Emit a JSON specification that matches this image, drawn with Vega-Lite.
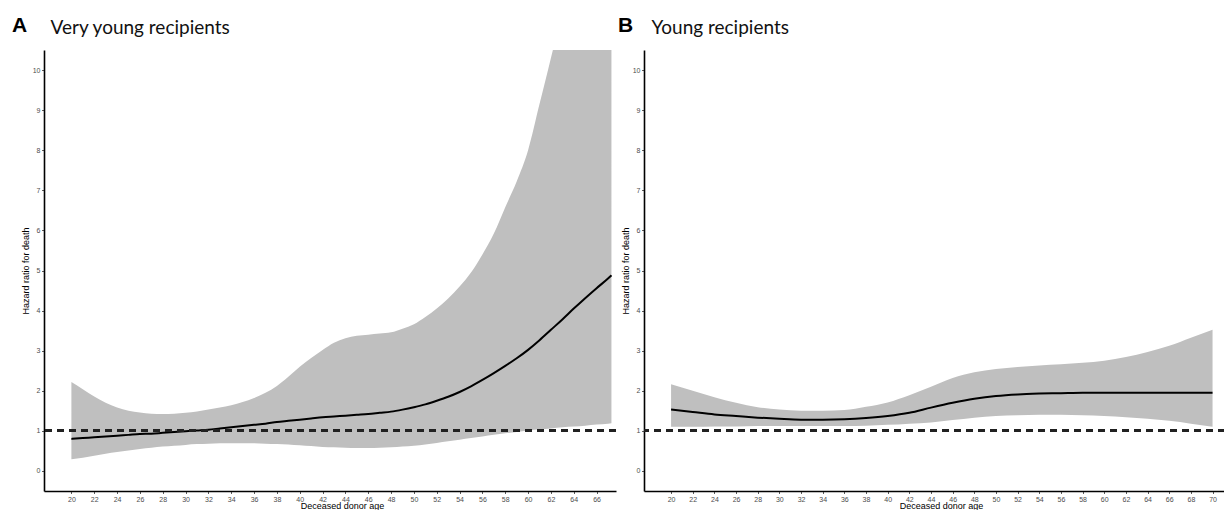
{
  "$schema": "https://vega.github.io/schema/vega-lite/v6.json",
  "padding": {"left": 12, "top": 15, "right": 0, "bottom": 0},
  "background": "white",
  "spacing": 1,
  "config": {
    "view": {"stroke": null},
    "axis": {
      "grid": false,
      "domainColor": "#000000",
      "domainWidth": 1.6,
      "tickColor": "#333333",
      "tickSize": 2.5,
      "tickWidth": 0.8,
      "labelFont": "Liberation Sans",
      "labelFontSize": 7,
      "labelColor": "#4d4d4d",
      "labelPadding": 1.5,
      "titleFont": "Liberation Sans",
      "titleFontSize": 9,
      "titleFontWeight": "normal",
      "titleColor": "#000000"
    },
    "title": {
      "font": "Liberation Sans",
      "fontSize": 21,
      "fontWeight": "bold",
      "color": "#000000",
      "anchor": "start",
      "frame": "group"
    }
  },
  "datasets": {
    "A": [
      {"age": 20, "hr": 0.80, "lo": 0.29, "hi": 2.22},
      {"age": 21, "hr": 0.82, "lo": 0.33, "hi": 2.04},
      {"age": 22, "hr": 0.84, "lo": 0.38, "hi": 1.86},
      {"age": 23, "hr": 0.86, "lo": 0.43, "hi": 1.70},
      {"age": 24, "hr": 0.88, "lo": 0.47, "hi": 1.58},
      {"age": 25, "hr": 0.90, "lo": 0.51, "hi": 1.50},
      {"age": 26, "hr": 0.92, "lo": 0.55, "hi": 1.46},
      {"age": 27, "hr": 0.93, "lo": 0.58, "hi": 1.43},
      {"age": 28, "hr": 0.95, "lo": 0.61, "hi": 1.42},
      {"age": 29, "hr": 0.97, "lo": 0.63, "hi": 1.43},
      {"age": 30, "hr": 0.99, "lo": 0.65, "hi": 1.45},
      {"age": 31, "hr": 1.01, "lo": 0.67, "hi": 1.48},
      {"age": 32, "hr": 1.03, "lo": 0.68, "hi": 1.53},
      {"age": 33, "hr": 1.06, "lo": 0.69, "hi": 1.58},
      {"age": 34, "hr": 1.09, "lo": 0.69, "hi": 1.64},
      {"age": 35, "hr": 1.12, "lo": 0.69, "hi": 1.72},
      {"age": 36, "hr": 1.15, "lo": 0.69, "hi": 1.82},
      {"age": 37, "hr": 1.18, "lo": 0.68, "hi": 1.95},
      {"age": 38, "hr": 1.22, "lo": 0.67, "hi": 2.12},
      {"age": 39, "hr": 1.25, "lo": 0.66, "hi": 2.35},
      {"age": 40, "hr": 1.28, "lo": 0.64, "hi": 2.60},
      {"age": 41, "hr": 1.31, "lo": 0.62, "hi": 2.82},
      {"age": 42, "hr": 1.34, "lo": 0.60, "hi": 3.02},
      {"age": 43, "hr": 1.36, "lo": 0.59, "hi": 3.20},
      {"age": 44, "hr": 1.38, "lo": 0.58, "hi": 3.31},
      {"age": 45, "hr": 1.40, "lo": 0.57, "hi": 3.37},
      {"age": 46, "hr": 1.42, "lo": 0.57, "hi": 3.40},
      {"age": 47, "hr": 1.45, "lo": 0.58, "hi": 3.43},
      {"age": 48, "hr": 1.48, "lo": 0.59, "hi": 3.46},
      {"age": 49, "hr": 1.53, "lo": 0.61, "hi": 3.55},
      {"age": 50, "hr": 1.59, "lo": 0.63, "hi": 3.66},
      {"age": 51, "hr": 1.66, "lo": 0.66, "hi": 3.84},
      {"age": 52, "hr": 1.75, "lo": 0.70, "hi": 4.05},
      {"age": 53, "hr": 1.85, "lo": 0.74, "hi": 4.30},
      {"age": 54, "hr": 1.97, "lo": 0.78, "hi": 4.60},
      {"age": 55, "hr": 2.11, "lo": 0.82, "hi": 4.95},
      {"age": 56, "hr": 2.27, "lo": 0.86, "hi": 5.40},
      {"age": 57, "hr": 2.44, "lo": 0.90, "hi": 5.92},
      {"age": 58, "hr": 2.62, "lo": 0.94, "hi": 6.58},
      {"age": 59, "hr": 2.81, "lo": 0.97, "hi": 7.22},
      {"age": 60, "hr": 3.02, "lo": 1.01, "hi": 8.00},
      {"age": 61, "hr": 3.26, "lo": 1.04, "hi": 9.15},
      {"age": 62, "hr": 3.52, "lo": 1.06, "hi": 10.30},
      {"age": 63, "hr": 3.78, "lo": 1.09, "hi": 11.50},
      {"age": 64, "hr": 4.05, "lo": 1.11, "hi": 13.00},
      {"age": 65, "hr": 4.31, "lo": 1.13, "hi": 14.80},
      {"age": 66, "hr": 4.56, "lo": 1.16, "hi": 16.80},
      {"age": 67, "hr": 4.80, "lo": 1.18, "hi": 19.00},
      {"age": 67.3, "hr": 4.88, "lo": 1.19, "hi": 19.70}
    ],
    "B": [
      {"age": 20, "hr": 1.53, "lo": 1.10, "hi": 2.16},
      {"age": 22, "hr": 1.47, "lo": 1.10, "hi": 2.00},
      {"age": 24, "hr": 1.41, "lo": 1.11, "hi": 1.84},
      {"age": 26, "hr": 1.37, "lo": 1.11, "hi": 1.70},
      {"age": 28, "hr": 1.33, "lo": 1.12, "hi": 1.59},
      {"age": 30, "hr": 1.30, "lo": 1.12, "hi": 1.53},
      {"age": 32, "hr": 1.28, "lo": 1.12, "hi": 1.50},
      {"age": 34, "hr": 1.28, "lo": 1.12, "hi": 1.50},
      {"age": 36, "hr": 1.29, "lo": 1.12, "hi": 1.52},
      {"age": 38, "hr": 1.32, "lo": 1.13, "hi": 1.60},
      {"age": 40, "hr": 1.37, "lo": 1.15, "hi": 1.71},
      {"age": 42, "hr": 1.45, "lo": 1.18, "hi": 1.89},
      {"age": 44, "hr": 1.58, "lo": 1.21, "hi": 2.10},
      {"age": 46, "hr": 1.70, "lo": 1.27, "hi": 2.32},
      {"age": 48, "hr": 1.80, "lo": 1.33, "hi": 2.46},
      {"age": 50, "hr": 1.87, "lo": 1.37, "hi": 2.54},
      {"age": 52, "hr": 1.91, "lo": 1.39, "hi": 2.59},
      {"age": 54, "hr": 1.93, "lo": 1.40, "hi": 2.63},
      {"age": 56, "hr": 1.94, "lo": 1.40, "hi": 2.66},
      {"age": 58, "hr": 1.95, "lo": 1.39, "hi": 2.70},
      {"age": 60, "hr": 1.95, "lo": 1.37, "hi": 2.75},
      {"age": 62, "hr": 1.95, "lo": 1.34, "hi": 2.84},
      {"age": 64, "hr": 1.95, "lo": 1.30, "hi": 2.97},
      {"age": 66, "hr": 1.95, "lo": 1.25, "hi": 3.12},
      {"age": 68, "hr": 1.95, "lo": 1.18, "hi": 3.32},
      {"age": 70, "hr": 1.95, "lo": 1.10, "hi": 3.52}
    ]
  },
  "hconcat": [
    {
      "width": 572,
      "height": 441,
      "title": {"text": "A", "dx": -32, "dy": 22},
      "data": {"name": "A"},
      "resolve": {"axis": {"x": "independent"}},
      "layer": [
        {
          "mark": {"type": "area", "color": "#bfbfbf", "clip": true, "interpolate": "monotone", "opacity": 1},
          "encoding": {
            "x": {"field": "age", "type": "quantitative", "scale": {"domain": [17.6, 67.7], "nice": false, "zero": false},
              "axis": {"title": "Deceased donor age", "values": [20,22,24,26,28,30,32,34,36,38,40,42,44,46,48,50,52,54,56,58,60,62,64,66],
                "titleX": 298, "titleY": 17, "titleAlign": "center", "titleBaseline": "alphabetic"}},
            "y": {"field": "lo", "type": "quantitative", "title": "Hazard ratio for death", "scale": {"domain": [-0.5, 10.5], "nice": false, "zero": false},
              "axis": {"values": [0,1,2,3,4,5,6,7,8,9,10],
                "titleX": -19, "titleY": 220.5, "titleAngle": 270, "titleAlign": "center", "titleBaseline": "middle"}},
            "y2": {"field": "hi"}
          }
        },
        {
          "mark": {"type": "line", "color": "#000000", "strokeWidth": 2, "clip": true, "interpolate": "monotone"},
          "encoding": {
            "x": {"field": "age", "type": "quantitative", "scale": {"domain": [17.6, 67.7], "nice": false, "zero": false},
              "axis": {"orient": "top", "title": "Very young recipients", "labels": false, "ticks": false, "domain": false,
                "titleFont": "Lato", "titleFontSize": 19, "titleFontWeight": "normal", "titleColor": "#111111",
                "titleX": 6, "titleY": -17, "titleAlign": "left", "titleBaseline": "alphabetic"}},
            "y": {"field": "hr", "type": "quantitative", "title": "Hazard ratio for death", "scale": {"domain": [-0.5, 10.5], "nice": false, "zero": false},
              "axis": {"values": [0,1,2,3,4,5,6,7,8,9,10],
                "titleX": -19, "titleY": 220.5, "titleAngle": 270, "titleAlign": "center", "titleBaseline": "middle"}}
          }
        },
        {
          "mark": {"type": "rule", "color": "#222222", "strokeWidth": 2, "strokeDash": [7, 5]},
          "encoding": {
            "y": {"datum": 1, "type": "quantitative", "title": "Hazard ratio for death", "scale": {"domain": [-0.5, 10.5], "nice": false, "zero": false},
              "axis": {"values": [0,1,2,3,4,5,6,7,8,9,10],
                "titleX": -19, "titleY": 220.5, "titleAngle": 270, "titleAlign": "center", "titleBaseline": "middle"}}
          }
        }
      ]
    },
    {
      "width": 581,
      "height": 441,
      "title": {"text": "B", "dx": -26, "dy": 22},
      "data": {"name": "B"},
      "resolve": {"axis": {"x": "independent"}},
      "layer": [
        {
          "mark": {"type": "area", "color": "#bfbfbf", "clip": true, "interpolate": "monotone", "opacity": 1},
          "encoding": {
            "x": {"field": "age", "type": "quantitative", "scale": {"domain": [17.5, 71.15], "nice": false, "zero": false},
              "axis": {"title": "Deceased donor age", "values": [20,22,24,26,28,30,32,34,36,38,40,42,44,46,48,50,52,54,56,58,60,62,64,66,68,70],
                "titleX": 297, "titleY": 17, "titleAlign": "center", "titleBaseline": "alphabetic"}},
            "y": {"field": "lo", "type": "quantitative", "title": "Hazard ratio for death", "scale": {"domain": [-0.5, 10.5], "nice": false, "zero": false},
              "axis": {"values": [0,1,2,3,4,5,6,7,8,9,10],
                "titleX": -19, "titleY": 220.5, "titleAngle": 270, "titleAlign": "center", "titleBaseline": "middle"}},
            "y2": {"field": "hi"}
          }
        },
        {
          "mark": {"type": "line", "color": "#000000", "strokeWidth": 2, "clip": true, "interpolate": "monotone"},
          "encoding": {
            "x": {"field": "age", "type": "quantitative", "scale": {"domain": [17.5, 71.15], "nice": false, "zero": false},
              "axis": {"orient": "top", "title": "Young recipients", "labels": false, "ticks": false, "domain": false,
                "titleFont": "Lato", "titleFontSize": 19, "titleFontWeight": "normal", "titleColor": "#111111",
                "titleX": 7, "titleY": -17, "titleAlign": "left", "titleBaseline": "alphabetic"}},
            "y": {"field": "hr", "type": "quantitative", "title": "Hazard ratio for death", "scale": {"domain": [-0.5, 10.5], "nice": false, "zero": false},
              "axis": {"values": [0,1,2,3,4,5,6,7,8,9,10],
                "titleX": -19, "titleY": 220.5, "titleAngle": 270, "titleAlign": "center", "titleBaseline": "middle"}}
          }
        },
        {
          "mark": {"type": "rule", "color": "#222222", "strokeWidth": 2, "strokeDash": [7, 5]},
          "encoding": {
            "y": {"datum": 1, "type": "quantitative", "title": "Hazard ratio for death", "scale": {"domain": [-0.5, 10.5], "nice": false, "zero": false},
              "axis": {"values": [0,1,2,3,4,5,6,7,8,9,10],
                "titleX": -19, "titleY": 220.5, "titleAngle": 270, "titleAlign": "center", "titleBaseline": "middle"}}
          }
        }
      ]
    }
  ]
}
